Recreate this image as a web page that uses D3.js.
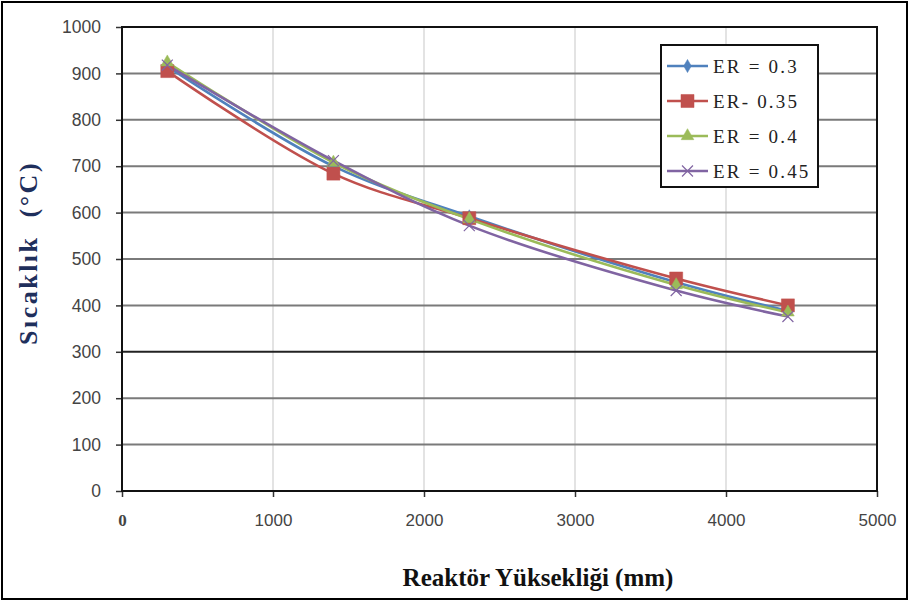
<!DOCTYPE html>
<html>
<head>
<meta charset="utf-8">
<script src="https://cdn.jsdelivr.net/npm/d3@7"></script>
<style>
  body { margin: 0; background: #fff; }
  svg { display: block; }
</style>
</head>
<body>
<svg id="svg"></svg>
<script>
let width = 909, height = 603;
let margin = { top: 27, right: 32, bottom: 112, left: 122 };

// data
let heights = [300, 1400, 2300, 3670, 4410]; // Reaktör Yüksekliği (mm)
let er03  = [915, 700, 592, 450, 388];
let er035 = [905, 684, 588, 458, 400];
let er04  = [924, 708, 586, 444, 385];
let er045 = [918, 712, 572, 432, 376];
let seriesNames = ["ER = 0.3", "ER- 0.35", "ER = 0.4", "ER = 0.45"];
let seriesColors = ["#4F81BD", "#C0504D", "#9BBB59", "#8064A2"];
let seriesMarkers = ["diamond", "square", "triangle", "cross"];
let xTicks = [0, 1000, 2000, 3000, 4000, 5000];
let yTicks = [0, 100, 200, 300, 400, 500, 600, 700, 800, 900, 1000];

let allSeries = [er03, er035, er04, er045].map((vals, i) => ({
    name: seriesNames[i],
    color: seriesColors[i],
    marker: seriesMarkers[i],
    points: vals.map((v, j) => ({ x: heights[j], y: v }))
}));

let plotW = width - margin.left - margin.right;
let plotH = height - margin.top - margin.bottom;

let svg = d3.select("#svg").attr("width", width).attr("height", height);

// outer frame
svg.append("rect")
    .attr("x", 2).attr("y", 2)
    .attr("width", width - 4).attr("height", height - 6)
    .attr("fill", "none").attr("stroke", "#000").attr("stroke-width", 2);

let xScale = d3.scaleLinear().domain([0, 5000]).range([0, plotW]);
let yScale = d3.scaleLinear().domain([0, 1000]).range([plotH, 0]);

let container = svg.append("g").attr("transform", `translate(${margin.left}, ${margin.top})`);

// vertical grid
container.append("g")
    .selectAll("line")
    .data(xTicks.slice(1, -1))
    .join("line")
    .attr("x1", d => xScale(d)).attr("x2", d => xScale(d))
    .attr("y1", 0).attr("y2", plotH)
    .attr("stroke", "#d0d0d0").attr("stroke-width", 1.2);

// horizontal grid
container.append("g")
    .selectAll("line")
    .data(yTicks.slice(1, -1))
    .join("line")
    .attr("x1", 0).attr("x2", plotW)
    .attr("y1", d => yScale(d)).attr("y2", d => yScale(d))
    .attr("stroke", d => d === 300 ? "#222" : "#7a7a7a")
    .attr("stroke-width", 2);

// axes
let xAxis = container.append("g")
    .attr("transform", `translate(0, ${plotH})`)
    .call(d3.axisBottom(xScale).tickValues(xTicks).tickSize(6).tickFormat(d3.format("d")));
xAxis.select(".domain").remove();
xAxis.selectAll(".tick line").attr("stroke", "#333").attr("stroke-width", 1.5);
xAxis.selectAll(".tick text")
    .attr("dy", "1.55em")
    .style("font-family", d => d === 0 ? "'Liberation Serif', serif" : "'Liberation Sans', Arial, sans-serif")
    .style("font-weight", d => d === 0 ? "bold" : "normal")
    .style("font-size", "17px").attr("fill", "#444");

let yAxis = container.append("g")
    .call(d3.axisLeft(yScale).tickValues(yTicks).tickSize(6).tickPadding(15).tickFormat(d3.format("d")));
yAxis.select(".domain").remove();
yAxis.selectAll(".tick line").attr("stroke", "#333").attr("stroke-width", 1.5);
yAxis.selectAll(".tick text")
    .style("font-family", "'Liberation Sans', Arial, sans-serif")
    .style("font-size", "17.5px").attr("fill", "#444");

// plot border
container.append("rect")
    .attr("width", plotW).attr("height", plotH)
    .attr("fill", "none").attr("stroke", "#111").attr("stroke-width", 2);

// lines
let line = d3.line()
    .x(d => xScale(d.x))
    .y(d => yScale(d.y))
    .curve(d3.curveCatmullRom.alpha(0.5));

let symbolFor = {
    diamond: d3.symbol().type(d3.symbolDiamond).size(50),
    square: d3.symbol().type(d3.symbolSquare).size(170),
    triangle: d3.symbol().type(d3.symbolTriangle).size(70),
    cross: d3.symbol().type(d3.symbolX).size(80)
};

function drawMarker(g, s) {
    let p = g.append("path").attr("d", symbolFor[s.marker]());
    if (s.marker === "cross") {
        p.attr("fill", "none").attr("stroke", s.color).attr("stroke-width", 1.2);
    } else {
        p.attr("fill", s.color).attr("stroke", s.color).attr("stroke-width", 0.5);
    }
}

allSeries.forEach(s => {
    container.append("path")
        .datum(s.points)
        .attr("fill", "none")
        .attr("stroke", s.color)
        .attr("stroke-width", 2.6)
        .attr("d", line);
});

allSeries.forEach(s => {
    container.append("g")
        .selectAll("g")
        .data(s.points)
        .join("g")
        .attr("transform", d => `translate(${xScale(d.x)}, ${yScale(d.y)})`)
        .each(function() { drawMarker(d3.select(this), s); });
});

// legend
let legend = svg.append("g").attr("transform", "translate(661, 45)");
legend.append("rect")
    .attr("width", 157).attr("height", 142)
    .attr("fill", "#fff").attr("stroke", "#111").attr("stroke-width", 2);
allSeries.forEach((s, i) => {
    let row = legend.append("g").attr("transform", `translate(0, ${21 + i * 35})`);
    row.append("line")
        .attr("x1", 6).attr("x2", 47)
        .attr("stroke", s.color).attr("stroke-width", 2.6);
    let m = row.append("g").attr("transform", "translate(26.5, 0)");
    drawMarker(m, s);
    row.append("text")
        .attr("x", 52).attr("y", 7)
        .style("font-family", "'Liberation Serif', 'Times New Roman', serif")
        .style("font-size", "19px")
        .style("letter-spacing", "2.2px")
        .attr("fill", "#222")
        .text(s.name);
});

// axis titles
svg.append("text")
    .attr("x", 538).attr("y", 586)
    .attr("text-anchor", "middle")
    .style("font-family", "'Liberation Serif', 'Times New Roman', serif")
    .style("font-weight", "bold")
    .style("font-size", "25px")
    .attr("fill", "#111")
    .text("Reaktör Yüksekliği (mm)");

svg.append("text")
    .attr("transform", "translate(37, 253) rotate(-90)")
    .attr("text-anchor", "middle")
    .style("font-family", "'Liberation Serif', 'Times New Roman', serif")
    .style("font-weight", "bold")
    .style("font-size", "26px")
    .style("letter-spacing", "2.5px")
    .attr("fill", "#1f2f5c")
    .attr("xml:space", "preserve")
    .text("Sıcaklık  (°C)");
</script>
</body>
</html>
